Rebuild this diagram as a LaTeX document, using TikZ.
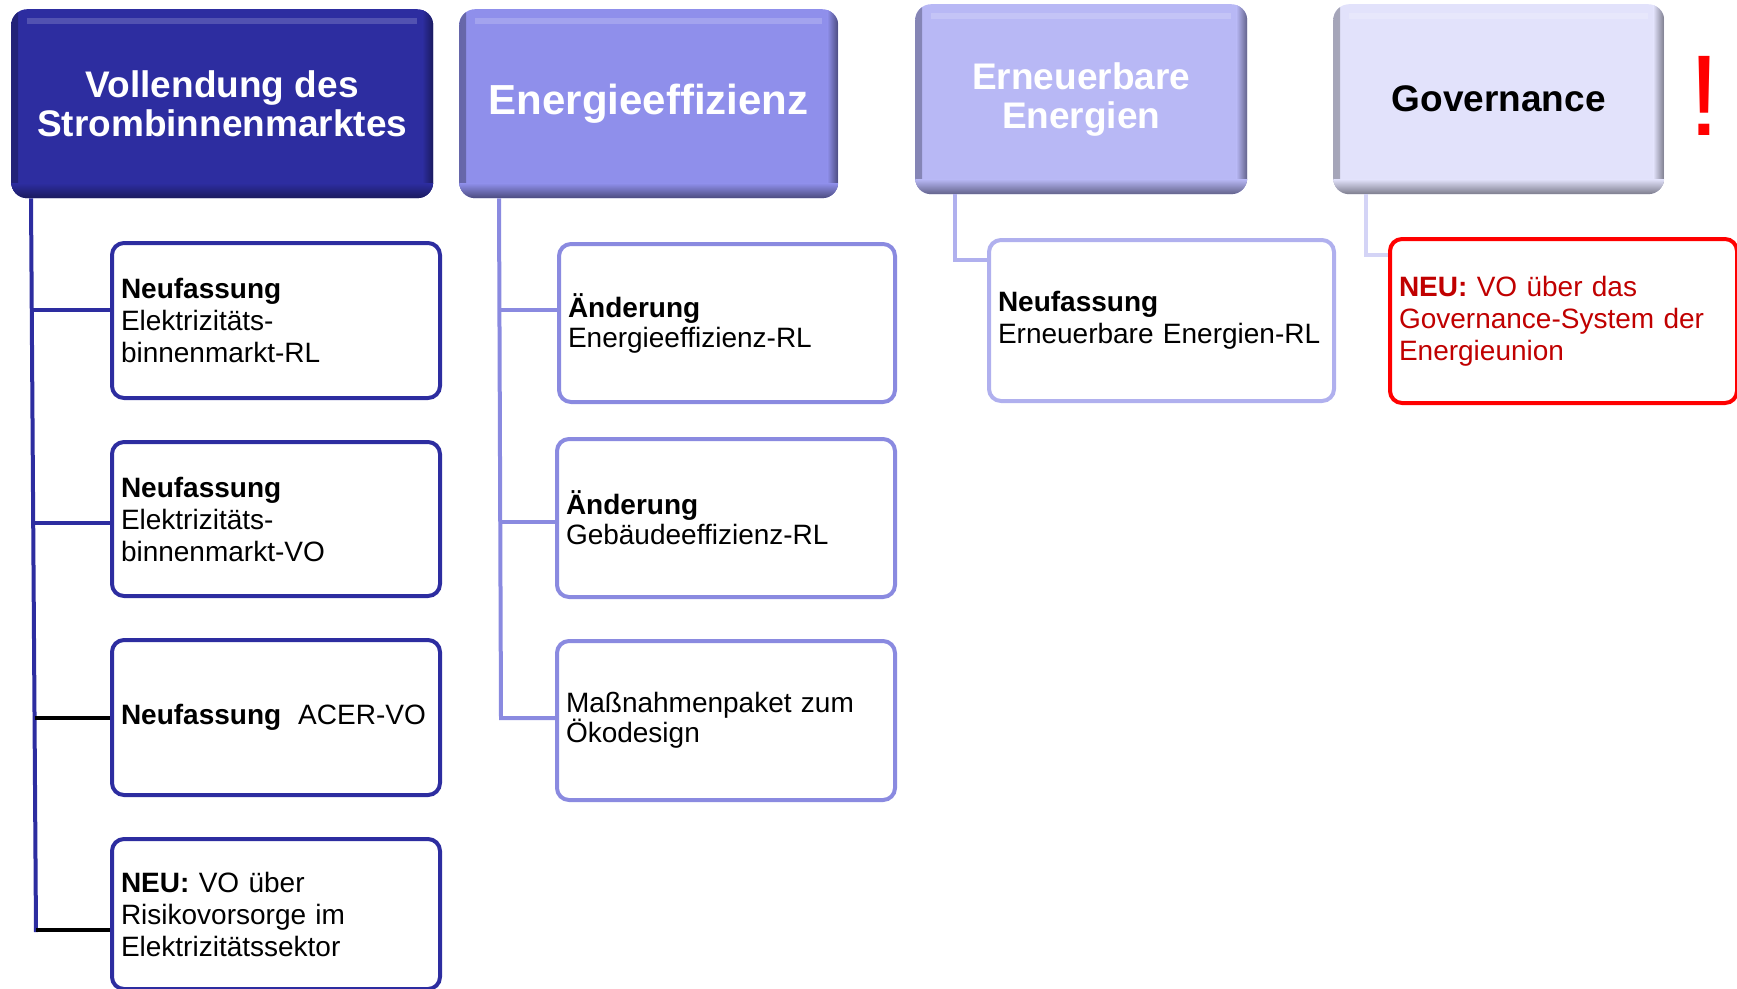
\documentclass[tikz,border=0pt]{standalone}
\usepackage{fontspec}
\setmainfont{Liberation Sans}
\definecolor{navy}{HTML}{2D2DA0}
\definecolor{navyd}{HTML}{1A1A5E}
\definecolor{lila}{HTML}{8F8FEB}
\definecolor{lilad}{HTML}{4B4B7E}
\definecolor{lilarand}{HTML}{8A8AE0}
\definecolor{flieder}{HTML}{B8B8F5}
\definecolor{fliederd}{HTML}{62628A}
\definecolor{fliederrand}{HTML}{B0B0EE}
\definecolor{hell}{HTML}{E2E2FB}
\definecolor{helld}{HTML}{7C7C8C}
\definecolor{hellrand}{HTML}{D4D4F6}
\definecolor{rot}{HTML}{FF0000}
\definecolor{dunkelrot}{HTML}{C00000}
\tikzset{
  kopf/.style 2 args={rounded corners=16pt, fill=#1, inner sep=0pt, anchor=north west, align=center,
    font=\fontsize{37}{39}\selectfont\bfseries,
    path picture={
      \shade[sharp corners,left color=#2!60!#1, right color=#1] (path picture bounding box.north west) rectangle ([xshift=7pt]path picture bounding box.south west);
      \shade[sharp corners,left color=#1, right color=#2] ([xshift=-11pt]path picture bounding box.north east) rectangle (path picture bounding box.south east);
      \shade[sharp corners,top color=#1, bottom color=#2] ([yshift=15pt]path picture bounding box.south west) rectangle (path picture bounding box.south east);
      \fill[sharp corners,white,opacity=.18] ([xshift=16pt,yshift=-9pt]path picture bounding box.north west) rectangle ([xshift=-16pt,yshift=-15pt]path picture bounding box.north east);
    }},
  feld/.style={draw, line width=4pt, rounded corners=12pt, anchor=north west, align=left,
    inner xsep=9pt, inner ysep=0pt, font=\fontsize{28}{32}\selectfont},
  ast/.style={line width=4pt},
}
\begin{document}
\begin{tikzpicture}[x=1pt,y=-1pt]
\useasboundingbox (0,0) rectangle (1737,988);

\node[kopf={navy}{navyd},text=white,minimum width=422pt,minimum height=189pt] (markt) at (11,9) {Vollendung des\\Strombinnenmarktes};
\node[kopf={lila}{lilad},text=white,minimum width=379pt,minimum height=189pt,font=\fontsize{42}{44}\selectfont\bfseries] (effizienz) at (459,9) {Energieeffizienz};
\node[kopf={flieder}{fliederd},text=white,minimum width=332pt,minimum height=190pt] (erneuerbar) at (915,4) {Erneuerbare\\Energien};
\node[kopf={hell}{helld},text=black,minimum width=331pt,minimum height=190pt] (governance) at (1333,4) {Governance};
\node[text=rot,inner sep=0pt,font=\fontsize{115}{115}\selectfont] (ausruf) at (1704,96) {!};

\node[feld,draw=navy,text width=310pt,minimum height=155pt] (markt1) at (110,241) {\textbf{Neufassung}\\Elektrizitäts-\\binnenmarkt-RL};
\node[feld,draw=navy,text width=310pt,minimum height=154pt] (markt2) at (110,440) {\textbf{Neufassung}\\Elektrizitäts-\\binnenmarkt-VO};
\node[feld,draw=navy,text width=310pt,minimum height=155pt] (markt3) at (110,638) {\textbf{Neufassung}\hspace{17pt}ACER-VO};
\node[feld,draw=navy,text width=310pt,minimum height=150pt] (markt4) at (110,837) {\textbf{NEU:} VO über\\Risikovorsorge im\\Elektrizitätssektor};

\node[feld,draw=lilarand,text width=318pt,minimum height=158pt,font=\fontsize{28}{30}\selectfont] (eff1) at (557,242) {\textbf{Änderung}\\Energieeffizienz-RL};
\node[feld,draw=lilarand,text width=320pt,minimum height=158pt,font=\fontsize{28}{30}\selectfont] (eff2) at (555,437) {\textbf{Änderung}\\Gebäudeeffizienz-RL};
\node[feld,draw=lilarand,text width=320pt,minimum height=159pt,font=\fontsize{28}{30}\selectfont] (eff3) at (555,639) {Maßnahmenpaket zum\\Ökodesign};

\node[feld,draw=fliederrand,text width=327pt,minimum height=161pt] (ee1) at (987,238) {\textbf{Neufassung}\\Erneuerbare Energien-RL};
\node[feld,draw=rot,text=dunkelrot,text width=329pt,minimum height=164pt] (gov1) at (1388,237) {\textbf{NEU:} VO über das\\Governance-System der\\Energieunion};

\coordinate (mfuss) at (36,932);
\coordinate (m1) at (33,310);
\coordinate (m2) at (34,523);
\coordinate (m3) at (35,718);
\coordinate (m4) at (36,930);
\draw[ast,navy] ([xshift=20pt]markt.south west) -- (mfuss);
\draw[ast,navy] (m1) -- (m1 -| markt1.west);
\draw[ast,navy] (m2) -- (m2 -| markt2.west);
\draw[ast,black] (m3) -- (m3 -| markt3.west);
\draw[ast,black] (m4) -- (m4 -| markt4.west);

\coordinate (e1) at (499,310);
\coordinate (e2) at (500,522);
\coordinate (e3) at (501,718);
\draw[ast,lilarand] ([xshift=40pt]effizienz.south west) -- (e3) -- (e3 -| eff3.west);
\draw[ast,lilarand] (e1) -- (e1 -| eff1.west);
\draw[ast,lilarand] (e2) -- (e2 -| eff2.west);

\coordinate (r1) at (955,260);
\draw[ast,fliederrand] (erneuerbar.south west -| r1) -- (r1) -- (r1 -| ee1.west);
\coordinate (g1) at (1366,255);
\draw[ast,hellrand] (governance.south west -| g1) -- (g1) -- (g1 -| gov1.west);
\end{tikzpicture}
\end{document}
